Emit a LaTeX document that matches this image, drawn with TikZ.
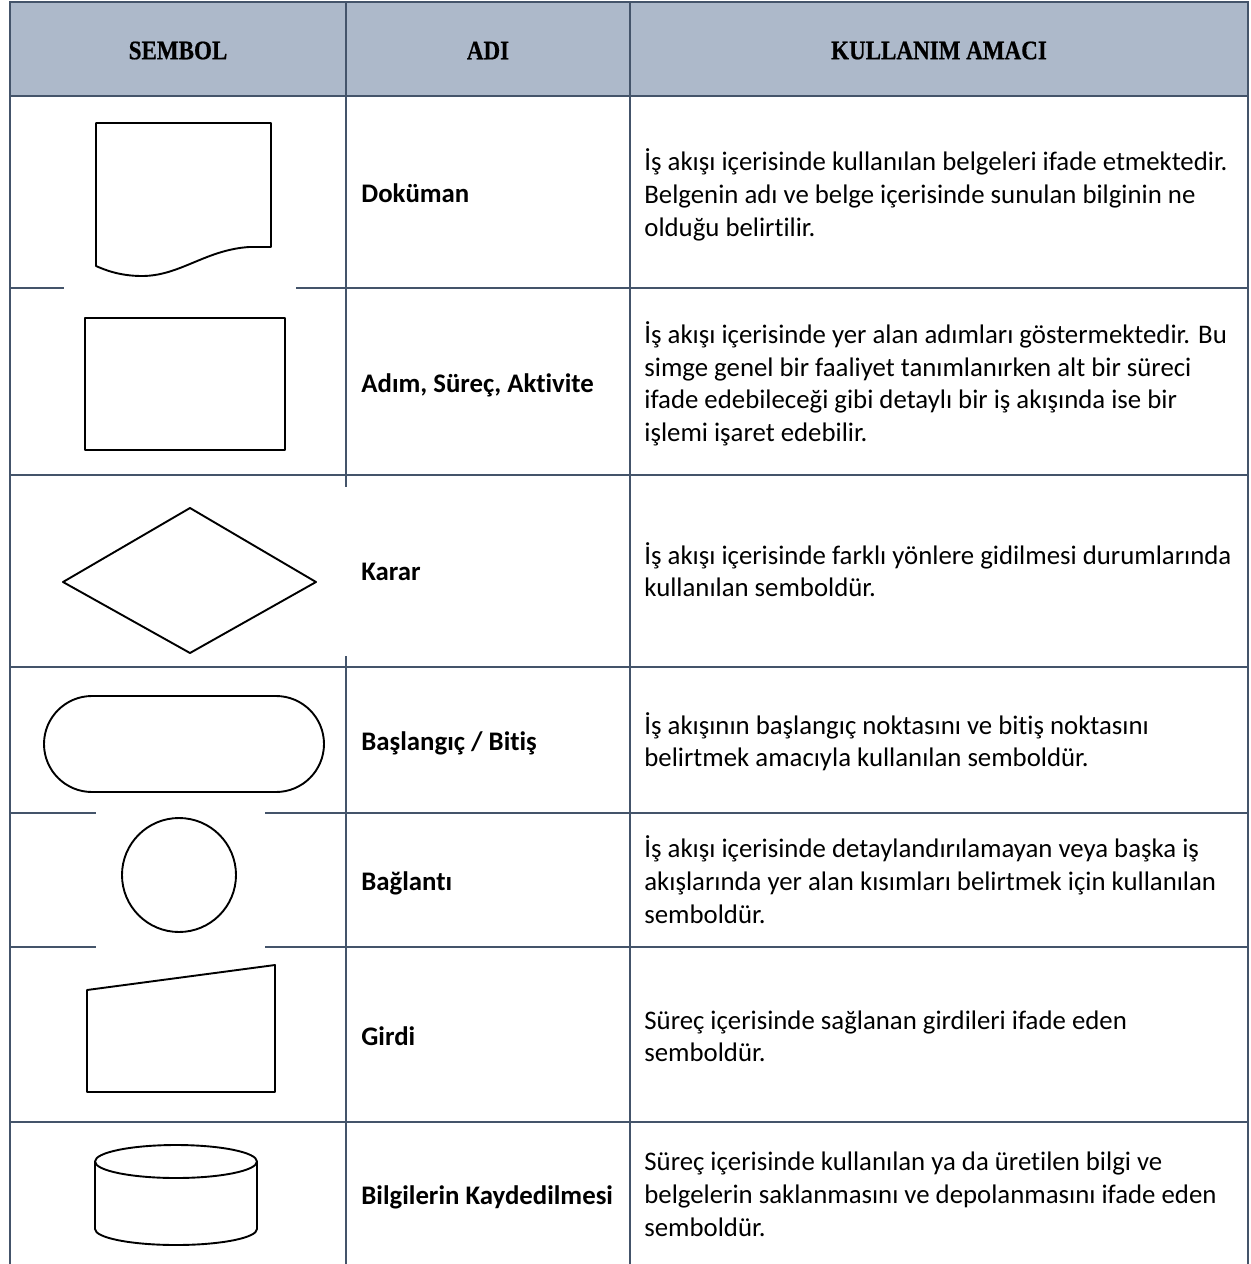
\documentclass[tikz,border=0pt]{standalone}
\usepackage{fontspec}
\setmainfont{Carlito}[Ligatures=NoCommon]
\newfontfamily\hdrfont{Liberation Serif Bold}[FakeStretch=0.86,FakeBold=0.6]
\definecolor{gridc}{HTML}{44546A}
\definecolor{hdrfill}{HTML}{ADB9CA}
\begin{document}
\begin{tikzpicture}[x=0.5pt,y=-0.5pt,
  gridline/.style={draw=gridc,line width=1pt},
  symb/.style={draw=black,line width=0.95pt,line join=round},
  hdr/.style={font=\hdrfont\fontsize{13.4}{16}\selectfont,inner sep=0pt,anchor=center},
  nametxt/.style={font=\bfseries\fontsize{13.4}{16.4}\selectfont,inner sep=0pt,anchor=west},
  desctxt/.style={font=\fontsize{13.4}{16.4}\selectfont,align=left,inner sep=0pt,anchor=west}]
\useasboundingbox (0,0) rectangle (1251,1264);
% header fill
\fill[hdrfill] (10,1.5) rectangle (1248,96);
% outer and column lines
\draw[gridline] (10,1264) -- (10,1.5) -- (1248,1.5) -- (1248,1264);
\draw[gridline] (630,1.5) -- (630,1264);
\draw[gridline] (346,1.5) -- (346,487);
\draw[gridline] (346,656) -- (346,1264);
% row lines
\draw[gridline] (10,96) -- (1248,96);
\draw[gridline] (10,288) -- (64,288);
\draw[gridline] (296,288) -- (1248,288);
\draw[gridline] (10,475) -- (1248,475);
\draw[gridline] (10,667) -- (1248,667);
\draw[gridline] (10,813) -- (96,813);
\draw[gridline] (265,813) -- (1248,813);
\draw[gridline] (10,947) -- (96,947);
\draw[gridline] (265,947) -- (1248,947);
\draw[gridline] (10,1122) -- (1248,1122);
% header texts
\node[hdr] (h1) at (178,50.5) {SEMBOL};
\node[hdr] (h2) at (488,50.5) {ADI};
\node[hdr] (h3) at (939,50.5) {KULLANIM AMACI};
% symbols
\draw[symb] (96,266) -- (96,123) -- (271,123) -- (271,247) -- (249,247)
  .. controls (205,250) and (180,276) .. (142,276)
  .. controls (120,276) and (105,270) .. (96,266) -- cycle;
\draw[symb] (85,318) rectangle (285,450);
\draw[symb] (63,582) -- (190,508) -- (316,582) -- (190,653) -- cycle;
\draw[symb,rounded corners=24pt] (44,696) rectangle (324,792);
\draw[symb] (179,875) circle (57);
\draw[symb] (87,990) -- (275,965) -- (275,1092) -- (87,1092) -- cycle;
\draw[symb] (176,1161.5) ellipse [x radius=81, y radius=16.5];
\draw[symb] (95,1161.5) -- (95,1229) arc[start angle=180,end angle=360,x radius=81,y radius=-16] -- (257,1161.5);
% names
\node[nametxt] (n1) at (361,196) {\strut Doküman};
\node[nametxt] (n2) at (361,385.5) {\strut Adım, Süreç, Aktivite};
\node[nametxt] (n3) at (361,574) {\strut Karar};
\node[nametxt] (n4) at (361,744) {\strut Başlangıç / Bitiş};
\node[nametxt] (n5) at (361,884) {\strut Bağlantı};
\node[nametxt] (n6) at (361,1039) {\strut Girdi};
\node[nametxt] (n7) at (361,1198) {\strut Bilgilerin Kaydedilmesi};
% descriptions
\node[desctxt] (d1) at (644,197) {\strut İş akışı içerisinde kullanılan belgeleri ifade etmektedir.\\ Belgenin adı ve belge içerisinde sunulan bilginin ne\\ olduğu belirtilir.\strut};
\node[desctxt] (d2) at (644,386) {\strut İş akışı içerisinde yer alan adımları göstermektedir. Bu\\ simge genel bir faaliyet tanımlanırken alt bir süreci\\ ifade edebileceği gibi detaylı bir iş akışında ise bir\\ işlemi işaret edebilir.\strut};
\node[desctxt] (d3) at (644,574) {\strut İş akışı içerisinde farklı yönlere gidilmesi durumlarında\\ kullanılan semboldür.\strut};
\node[desctxt] (d4) at (644,744) {\strut İş akışının başlangıç noktasını ve bitiş noktasını\\ belirtmek amacıyla kullanılan semboldür.\strut};
\node[desctxt] (d5) at (644,884) {\strut İş akışı içerisinde detaylandırılamayan veya başka iş\\ akışlarında yer alan kısımları belirtmek için kullanılan\\ semboldür.\strut};
\node[desctxt] (d6) at (644,1039) {\strut Süreç içerisinde sağlanan girdileri ifade eden\\ semboldür.\strut};
\node[desctxt] (d7) at (644,1197) {\strut Süreç içerisinde kullanılan ya da üretilen bilgi ve\\ belgelerin saklanmasını ve depolanmasını ifade eden\\ semboldür.\strut};
\end{tikzpicture}
\end{document}
